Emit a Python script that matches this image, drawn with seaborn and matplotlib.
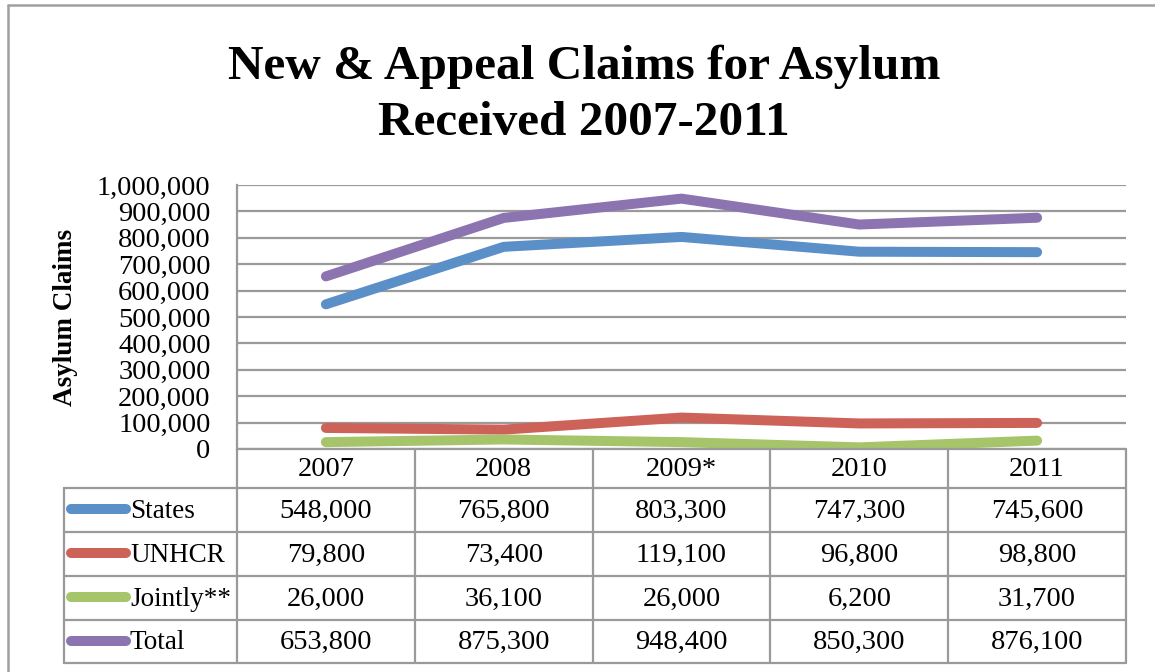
import matplotlib
matplotlib.use("Agg")
import matplotlib.pyplot as plt
from matplotlib.lines import Line2D
import seaborn as sns
import pandas as pd
import numpy as np

categories = ["2007", "2008", "2009*", "2010", "2011"]
series_names = ["States", "UNHCR", "Jointly**", "Total"]
states = [548000, 765800, 803300, 747300, 745600]
unhcr = [79800, 73400, 119100, 96800, 98800]
jointly = [26000, 36100, 26000, 6200, 31700]
total = [653800, 875300, 948400, 850300, 876100]
y_ticks = [0, 100000, 200000, 300000, 400000, 500000, 600000, 700000, 800000, 900000, 1000000]
title_text = "New & Appeal Claims for Asylum\nReceived 2007-2011"
y_label = "Asylum Claims"

colors = ["#5B8FC8", "#CD6259", "#A6C46A", "#8C74B0"]
values = [states, unhcr, jointly, total]

sns.set_theme(style="white")
plt.rcParams["font.family"] = ["Liberation Serif", "DejaVu Serif"]
plt.rcParams["text.color"] = "black"
plt.rcParams["axes.labelcolor"] = "black"
plt.rcParams["ytick.color"] = "black"

W, H = 1155, 672
fig = plt.figure(figsize=(W / 100, H / 100), dpi=100)
fig.patch.set_facecolor("white")

def fx(px):
    return px / W

def fy(py):
    return 1 - py / H

grid_c = "#9a9a9a"
FS = 20.5

# plot axes
L, R, T, B = 237, 1126, 185, 449
ax = fig.add_axes([fx(L), fy(B), fx(R - L), (B - T) / H])
rows = []
for name, vals in zip(series_names, values):
    for i, v in enumerate(vals):
        rows.append({"x": i, "value": v, "series": name})
df = pd.DataFrame(rows)
sns.lineplot(data=df, x="x", y="value", hue="series", hue_order=series_names,
             palette=colors, linewidth=7.2, legend=False, ax=ax,
             solid_capstyle="round")
ax.set_xlim(-0.5, len(categories) - 0.5)
ax.set_ylim(0, 1000000)
ax.set_yticks(y_ticks)
ax.set_yticklabels([f"{v:,}" for v in y_ticks], fontsize=FS)
ax.tick_params(axis="y", length=0, pad=19)
ax.set_xticks([])
ax.set_xlabel("")
ax.set_ylabel(y_label, fontsize=19.5, fontweight="bold", labelpad=14)
ax.yaxis.grid(True, color=grid_c, linewidth=1.6)
ax.set_axisbelow(True)
for s in ["top", "right", "bottom"]:
    ax.spines[s].set_visible(False)
ax.spines["left"].set_color(grid_c)
ax.spines["left"].set_linewidth(1.6)
ax.set_facecolor("none")

# table axes
TL, TB = 64, 663
col_w = (R - L) / len(categories)
legend_w = (L - TL) / col_w
tax = fig.add_axes([fx(TL), fy(TB), fx(R - TL), (TB - B) / H])
tax.set_xlim(-0.5 - legend_w, len(categories) - 0.5)
tax.set_ylim(TB, B)
tax.axis("off")
row_lines = [488, 532, 576, 620, 663]
lw = 1.6
xl = -0.5 - legend_w
xr = len(categories) - 0.5
# horizontal lines
tax.plot([-0.5, xr], [B, B], color=grid_c, lw=lw, clip_on=False)
for y in row_lines:
    tax.plot([xl, xr], [y, y], color=grid_c, lw=lw, clip_on=False)
# vertical lines
for i in range(len(categories) + 1):
    tax.plot([i - 0.5, i - 0.5], [B, TB], color=grid_c, lw=lw, clip_on=False)
tax.plot([xl, xl], [row_lines[0], TB], color=grid_c, lw=lw, clip_on=False)
# header
for i, c in enumerate(categories):
    tax.text(i, (B + row_lines[0]) / 2 + 1, c, ha="center", va="center", fontsize=FS)
# rows
tops = row_lines[:-1]
bots = row_lines[1:]
for r, (name, vals, col) in enumerate(zip(series_names, values, colors)):
    yc = (tops[r] + bots[r]) / 2
    for i, v in enumerate(vals):
        tax.text(i, yc + 1, f"{v:,}", ha="center", va="center", fontsize=FS)
    kx0 = xl + (71 - TL) / col_w
    kx1 = xl + (126 - TL) / col_w
    tax.plot([kx0, kx1], [yc - 1, yc - 1], color=col, lw=7.2,
             solid_capstyle="round", clip_on=False)
    tax.text(xl + (130 - TL) / col_w, yc + 1, name, ha="left", va="center", fontsize=19.5)

# title
fig.text(fx(584), fy(95), title_text, ha="center", va="center",
         fontsize=35.5, fontweight="bold", linespacing=1.35)

# outer frame
fig.add_artist(Line2D([fx(8), fx(8)], [0, fy(5)], color="#a0a0a0", lw=1.8))
fig.add_artist(Line2D([fx(8), 1], [fy(5), fy(5)], color="#a0a0a0", lw=1.8))

fig.savefig("out.png", dpi=100, facecolor="white")
